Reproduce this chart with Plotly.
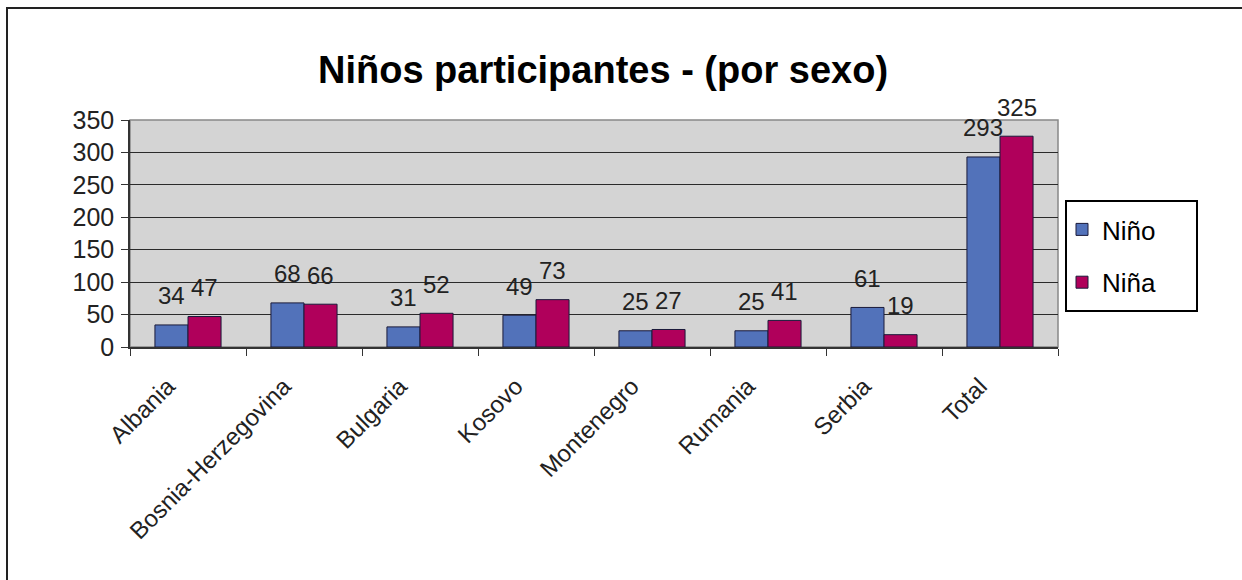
import plotly.graph_objects as go

categories = ["Albania", "Bosnia-Herzegovina", "Bulgaria", "Kosovo",
              "Montenegro", "Rumania", "Serbia", "Total"]
nino = [34, 68, 31, 49, 25, 25, 61, 293]
nina = [47, 66, 52, 73, 27, 41, 19, 325]
series_names = ["Niño", "Niña"]
y_ticks = [0, 50, 100, 150, 200, 250, 300, 350]

W, H = 1242, 580
ML, MR, MT, MB = 130, 184, 120, 233
FONT = "Liberation Sans, Arial, sans-serif"
BLUE = "#5272BA"
MAG = "#B0005B"

plot_w = W - ML - MR
plot_h = H - MT - MB


def px_x(px):
    return (px - ML) / plot_w


def px_y(py):
    return (H - MB - py) / plot_h


fig = go.Figure()
for name, vals, col in [(series_names[0], nino, BLUE), (series_names[1], nina, MAG)]:
    fig.add_trace(go.Bar(
        x=categories, y=vals, name=name, legendgroup=name,
        marker=dict(color=col, line=dict(color="#1a1a3a", width=1)),
    ))

# data labels above bars
cat_w = plot_w / len(categories)
bargap = 0.43
bar_w = cat_w * (1 - bargap) / 2
for vals, shift in [(nino, -bar_w / 2), (nina, bar_w / 2)]:
    for c, v in zip(categories, vals):
        fig.add_annotation(x=c, y=v, text=str(v), showarrow=False,
                           xshift=shift, yshift=29, yanchor="middle",
                           font=dict(family=FONT, size=24, color="#222"))

# outer border of the chart area
fig.add_shape(type="rect", xref="paper", yref="paper",
              x0=px_x(7), x1=px_x(W + 5), y0=px_y(H + 5), y1=px_y(8),
              line=dict(color="#222", width=2), layer="below")
# legend box
fig.add_shape(type="rect", xref="paper", yref="paper",
              x0=px_x(1066), x1=px_x(1197), y0=px_y(311), y1=px_y(201),
              line=dict(color="black", width=2), fillcolor="white", layer="below")

fig.update_layout(
    width=W, height=H,
    margin=dict(l=ML, r=MR, t=MT, b=MB),
    paper_bgcolor="white", plot_bgcolor="#D4D4D4",
    barmode="group", bargap=bargap, bargroupgap=0,
    title=dict(text="<b>Niños participantes - (por sexo)</b>", x=603 / W,
               xanchor="center", y=1 - 70 / H, yanchor="middle",
               font=dict(family=FONT, size=38, color="black")),
    font=dict(family=FONT, color="#222"),
    showlegend=True,
    legend=dict(x=px_x(1062), xanchor="left", y=px_y(206), yanchor="top",
                borderwidth=0, bgcolor="rgba(0,0,0,0)",
                font=dict(family=FONT, size=26, color="black"),
                tracegroupgap=16, itemwidth=30),
    xaxis=dict(type="category", tickangle=-45, tickson="boundaries", ticks="outside",
               ticklen=7, tickcolor="#333", showline=True, linecolor="#333", linewidth=1.5,
               mirror=False, ticklabelstandoff=14, ticklabelshift=-20,
               tickfont=dict(family=FONT, size=24, color="#222")),
    yaxis=dict(range=[0, 350], tickvals=y_ticks, ticks="outside", ticklen=7, tickcolor="#333",
               showline=True, linecolor="#333", linewidth=1.5, showgrid=True,
               gridcolor="#2a2a2a", gridwidth=1, zeroline=False, ticklabelstandoff=2,
               tickfont=dict(family=FONT, size=25, color="#222")),
)
# gray plot-area border top/right
fig.add_shape(type="rect", xref="paper", yref="paper", x0=0, x1=1, y0=0, y1=1,
              line=dict(color="#888", width=1.5), layer="below")

fig.write_html("out.html")
